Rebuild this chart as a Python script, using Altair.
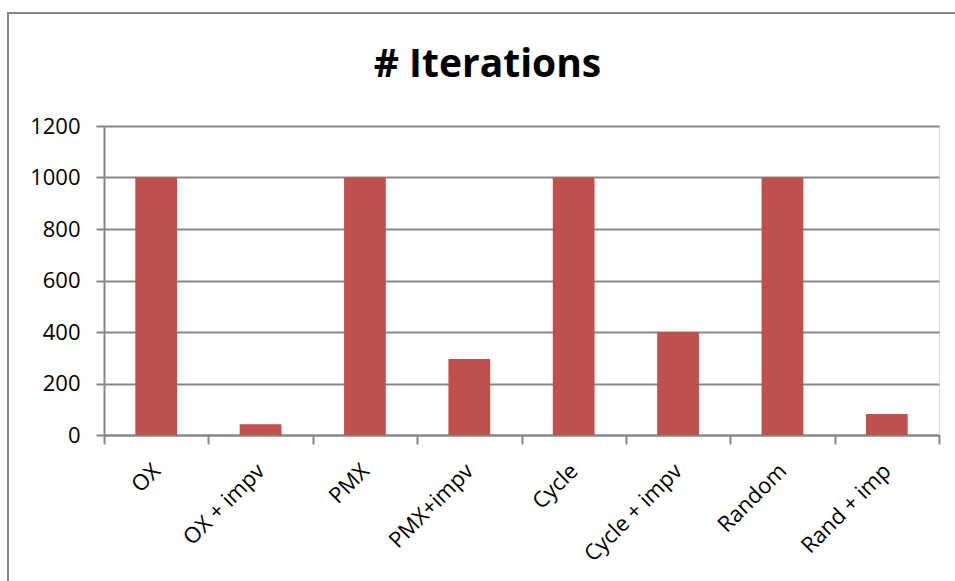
import altair as alt
import pandas as pd

# Iteration counts per crossover variant
categories = ["OX", "OX + impv", "PMX", "PMX+impv", "Cycle", "Cycle + impv", "Random", "Rand + imp"]
iterations = [1000, 42, 1000, 295, 1000, 400, 1000, 82]
y_ticks = [0, 200, 400, 600, 800, 1000, 1200]

df = pd.DataFrame({"variant": categories, "iterations": iterations})

FONT = "Open Sans"
GRID = "#878787"

bars = alt.Chart(df).mark_bar(color="#C0504D", width=alt.RelativeBandSize(0.4)).encode(
    x=alt.X(
        "variant:N",
        sort=categories,
        title=None,
        scale=alt.Scale(paddingInner=0, paddingOuter=0),
        axis=alt.Axis(
            labelAngle=-45,
            labelAlign="right",
            labelBaseline="middle",
            labelFont=FONT,
            labelFontSize=22,
            labelColor="#000000",
            labelPadding=23,
            tickBand="extent",
            tickSize=9,
            tickColor=GRID,
            tickWidth=2,
            domainColor=GRID,
            domainWidth=2,
            grid=False,
        ),
    ),
    y=alt.Y(
        "iterations:Q",
        title=None,
        scale=alt.Scale(domain=[0, 1200], nice=False),
        axis=alt.Axis(
            values=y_ticks,
            format="d",
            labelFont=FONT,
            labelFontSize=22,
            labelColor="#000000",
            labelPadding=16,
            tickSize=8,
            tickColor=GRID,
            tickWidth=2,
            domainColor=GRID,
            domainWidth=2,
            grid=True,
            gridColor=GRID,
            gridWidth=2,
        ),
    ),
)

# Outer frame around the chart
frame = alt.Chart(df).mark_rect(fill=None, stroke=GRID, strokeWidth=2).encode(
    x=alt.value(-96), x2=alt.value(860), y=alt.value(-113), y2=alt.value(480)
)

chart = (
    alt.layer(frame, bars)
    .properties(
        width=835,
        height=309,
        title=alt.TitleParams(
            "# Iterations",
            font=FONT,
            fontSize=39,
            fontWeight="bold",
            color="#000000",
            anchor="middle",
            frame="group",
            dx=-34,
            baseline="alphabetic",
            offset=-104,
        ),
        autosize=alt.AutoSizeParams(type="none"),
        padding={"left": 104, "top": 126, "right": 16, "bottom": 146},
    )
    .configure_view(stroke=None)
    .configure(background="#ffffff")
)

chart.save("out.html", embed_options={"renderer": "svg", "actions": False})
